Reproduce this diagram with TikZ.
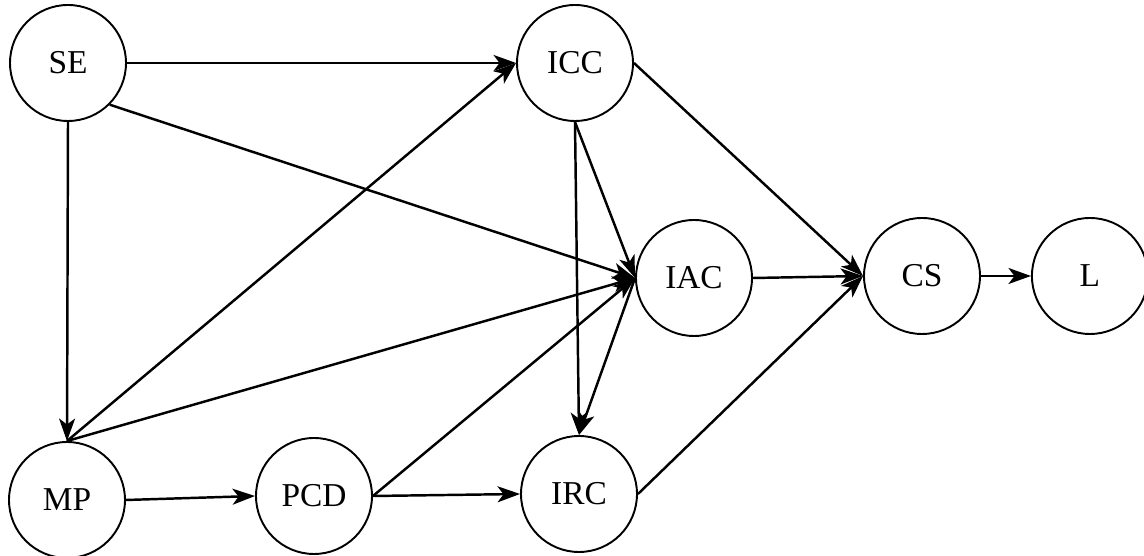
\documentclass[tikz,border=0pt]{standalone}
\usepackage{fontspec}
\setmainfont{Liberation Serif}
\usetikzlibrary{positioning}
\usetikzlibrary{arrows.meta}

\begin{document}
\begin{tikzpicture}[roundnode/.style={circle, draw=black, fill=white, line width=1.1pt, minimum size=2.32cm, inner sep=0pt, font=\fontsize{19}{22}\selectfont},
>={Stealth[length=4.5mm, width=3.2mm, inset=1.2mm]}, every path/.style={line width=1.4pt}]
\useasboundingbox (0,0) rectangle (22.88,11.12);
\node[roundnode] (se) at (1.36,9.86) {SE};
\node[roundnode] (icc) at (11.5,9.86) {ICC};
\node[roundnode] (iac) at (13.88,5.56) {IAC};
\node[roundnode] (cs) at (18.44,5.6) {CS};
\node[roundnode] (l) [right=of cs] {L};
\node[roundnode] (mp) at (1.34,1.12) {MP};
\node[roundnode] (pcd) at (6.28,1.2) {PCD};
\node[roundnode] (irc) at (11.58,1.24) {IRC};

\draw[->] (se.east) -- (icc.west);
\draw[->] (se.south east) -- (iac.west);
\draw[->] (se.south) -- (mp.north);
\draw[->] (mp.north) -- (icc.west);
\draw[->] (mp.north) -- (iac.west);
\draw[->] (mp.east) -- (pcd.west);
\draw[->] (pcd.east) -- (iac.west);
\draw[->] (pcd.east) -- (irc.west);
\draw[->] (icc.south) -- (iac.west);
\draw[->] (icc.south) -- (irc.north);
\draw[->] (iac.west) -- (irc.north);
\draw[->] (icc.east) -- (cs.west);
\draw[->] (iac.east) -- (cs.west);
\draw[->] (irc.east) -- (cs.west);
\draw[->] (cs.east) -- (l.west);
\end{tikzpicture}
\end{document}
